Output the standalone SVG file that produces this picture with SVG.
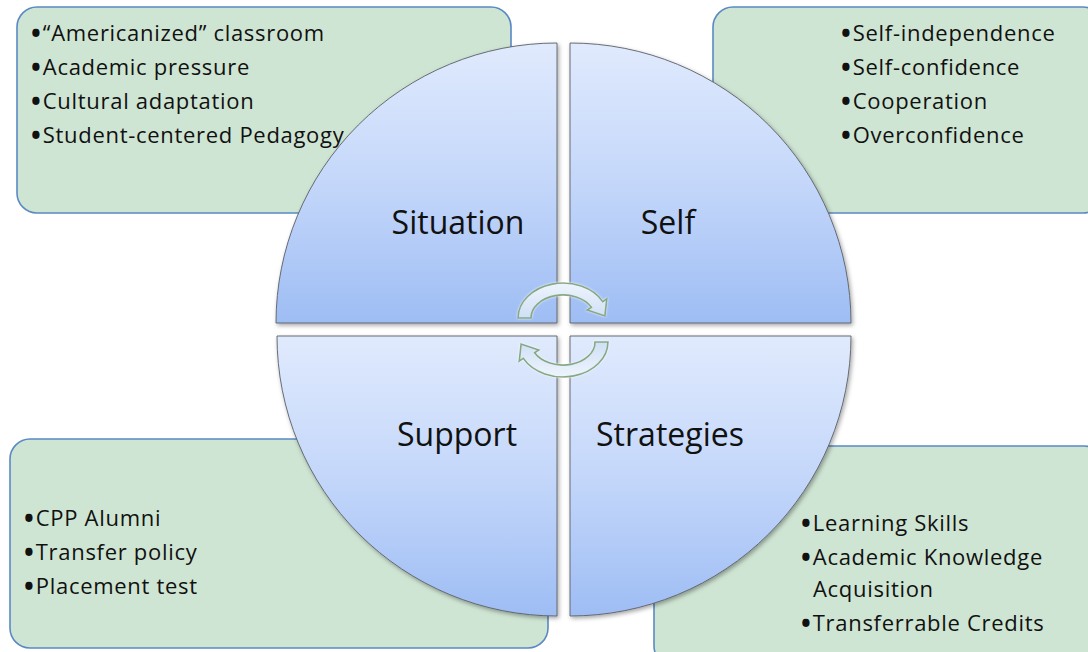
<svg xmlns="http://www.w3.org/2000/svg" width="1088" height="652" viewBox="0 0 1088 652">
<defs>
<linearGradient id="gq" x1="0" y1="0" x2="0" y2="1">
<stop offset="0" stop-color="#e0eafd"/>
<stop offset="0.5" stop-color="#c4d7fa"/>
<stop offset="1" stop-color="#9ebdf4"/>
</linearGradient>
<linearGradient id="ga" x1="0" y1="0" x2="0" y2="1">
<stop offset="0" stop-color="#eef4fc"/>
<stop offset="1" stop-color="#d0e0f6"/>
</linearGradient>
<filter id="sh" x="-10%" y="-10%" width="120%" height="120%">
<feDropShadow dx="1.5" dy="2" stdDeviation="2" flood-color="#000" flood-opacity="0.35"/>
</filter>
<filter id="glow" x="-20%" y="-20%" width="140%" height="140%">
<feDropShadow dx="0" dy="0" stdDeviation="1.2" flood-color="#ffffff" flood-opacity="0.8"/>
</filter>
</defs>
<style>
.box{fill:#cfe5d3;stroke:#5a89c4;stroke-width:1.6}
.quad{fill:url(#gq);stroke:#5a5f66;stroke-width:0.9;filter:url(#sh)}
.bt{font-family:"Open Sans","Liberation Sans",sans-serif;font-size:22px;letter-spacing:0.7px;fill:#111}
.b{font-size:26px;font-weight:bold;letter-spacing:0}
.ql{font-family:"Open Sans","Liberation Sans",sans-serif;font-size:32px;fill:#111;text-anchor:middle}
.arr{fill:url(#ga);stroke:#86a982;stroke-width:1.6;filter:url(#glow)}
</style>
<rect width="1088" height="652" fill="#ffffff"/>

<g id="box-situation">
<rect class="box" x="17" y="7" width="494" height="206" rx="20"/>
<text class="bt" x="31" y="41"><tspan class="b" dy="2">•</tspan><tspan dx="2" dy="-2">“Americanized” classroom</tspan></text>
<text class="bt" x="31" y="75"><tspan class="b" dy="2">•</tspan><tspan dx="2" dy="-2">Academic pressure</tspan></text>
<text class="bt" x="31" y="109"><tspan class="b" dy="2">•</tspan><tspan dx="2" dy="-2">Cultural adaptation</tspan></text>
<text class="bt" x="31" y="143"><tspan class="b" dy="2">•</tspan><tspan dx="2" dy="-2">Student-centered Pedagogy</tspan></text>
</g>
<g id="box-self">
<rect class="box" x="713" y="7" width="390" height="206" rx="20"/>
<text class="bt" x="841" y="41"><tspan class="b" dy="2">•</tspan><tspan dx="2" dy="-2">Self-independence</tspan></text>
<text class="bt" x="841" y="75"><tspan class="b" dy="2">•</tspan><tspan dx="2" dy="-2">Self-confidence</tspan></text>
<text class="bt" x="841" y="109"><tspan class="b" dy="2">•</tspan><tspan dx="2" dy="-2">Cooperation</tspan></text>
<text class="bt" x="841" y="143"><tspan class="b" dy="2">•</tspan><tspan dx="2" dy="-2">Overconfidence</tspan></text>
</g>
<g id="box-support">
<rect class="box" x="10" y="439" width="538" height="209" rx="20"/>
<text class="bt" x="24" y="526"><tspan class="b" dy="2">•</tspan><tspan dx="2" dy="-2">CPP Alumni</tspan></text>
<text class="bt" x="24" y="560"><tspan class="b" dy="2">•</tspan><tspan dx="2" dy="-2">Transfer policy</tspan></text>
<text class="bt" x="24" y="594"><tspan class="b" dy="2">•</tspan><tspan dx="2" dy="-2">Placement test</tspan></text>
</g>
<g id="box-strategies">
<rect class="box" x="654" y="446" width="450" height="220" rx="20"/>
<text class="bt" x="801" y="531"><tspan class="b" dy="2">•</tspan><tspan dx="2" dy="-2">Learning Skills</tspan></text>
<text class="bt" x="801" y="565"><tspan class="b" dy="2">•</tspan><tspan dx="2" dy="-2">Academic Knowledge</tspan></text>
<text class="bt" x="813" y="597">Acquisition</text>
<text class="bt" x="801" y="631"><tspan class="b" dy="2">•</tspan><tspan dx="2" dy="-2">Transferrable Credits</tspan></text>
</g>

<g id="q-situation">
<path class="quad" d="M557,323 L276,323 A281,280 0 0 1 557,43 Z"/>
<text class="ql" x="458" y="234">Situation</text>
</g>
<g id="q-self">
<path class="quad" d="M570,43 A281,280 0 0 1 851,323 L570,323 Z"/>
<text class="ql" x="668" y="234">Self</text>
</g>
<g id="q-support">
<path class="quad" d="M277,336 L557,336 L557,616 A280,280 0 0 1 277,336 Z"/>
<text class="ql" x="457" y="446">Support</text>
</g>
<g id="q-strategies">
<path class="quad" d="M570,336 L851,336 A281,280 0 0 1 570,616 Z"/>
<text class="ql" x="670" y="446">Strategies</text>
</g>

<g id="connectors">
<path id="arrow-top" class="arr" d="M518,318 A45,35 0 0 1 602.7,301.6 L606.8,298.8 L604.9,316 L587.2,310 L591.3,307.2 A32,23 0 0 0 531,318 Z"/>
<use href="#arrow-top" transform="rotate(180 563 330)"/>
</g>
</svg>
